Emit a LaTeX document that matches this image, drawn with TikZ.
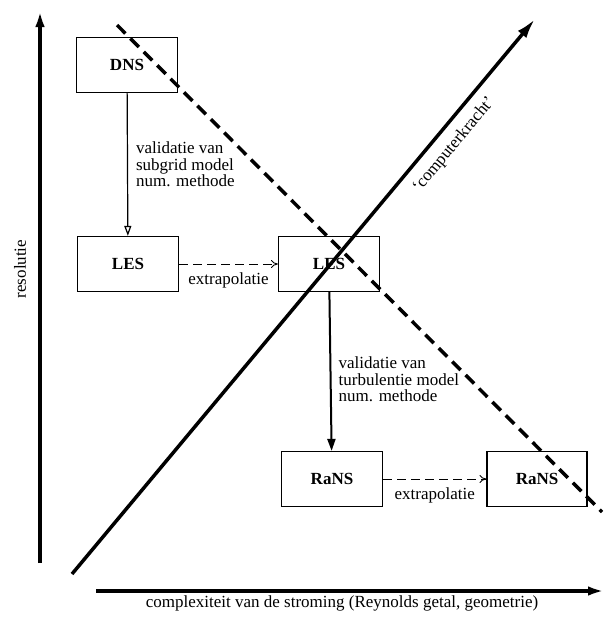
\documentclass[tikz,border=0pt]{standalone}
\usepackage{fontspec}
\setmainfont{Liberation Serif}
\usetikzlibrary{arrows.meta}

\begin{document}
\begin{tikzpicture}[x=1pt,y=-1pt,font=\rmfamily\fontsize{17}{16.5}\selectfont,
		blok/.style={draw,line width=1.2pt,minimum width=101pt,minimum height=55pt,font=\rmfamily\fontsize{17}{17}\selectfont\bfseries},
		as/.style={line width=4pt,-{Latex[length=20pt,width=9pt]}},
		extra/.style={dashed,dash pattern=on 9pt off 5pt,line width=0.9pt,-{To[length=7pt,width=8pt]}},
		uitleg/.style={align=left,inner sep=0pt,font=\rmfamily\fontsize{17}{16.5}\selectfont}]
	\useasboundingbox (0,0) rectangle (609,619);
	% de blokken
	\node[blok] (dns) at (127,65) {DNS};
	\node[blok] (lesa) at (128,264) {LES};
	\node[blok] (lesb) at (329,264) {LES};
	\node[blok] (ransa) at (332,479) {RaNS};
	\node[blok,minimum width=100pt] (ransb) at (537,479) {RaNS};
	% assen
	\coordinate (yvoet) at (40,563);
	\coordinate (ytop) at (40,7);
	\coordinate (xvoet) at (96,591);
	\coordinate (xtop) at (608,591);
	\coordinate (cvoet) at (72,574);
	\coordinate (ctop) at (535,19);
	\coordinate (dbegin) at (117,25);
	\coordinate (deind) at (602,512);
	\draw[as] (yvoet) -- (ytop);
	\draw[as] (xvoet) -- (xtop);
	\node[rotate=90] (ylabel) at (20,269) {resolutie};
	\node (xlabel) at (342,603) {complexiteit van de stroming (Reynolds getal, geometrie)};
	\draw[line width=3.5pt,-{Latex[length=20pt,width=11pt]}] (cvoet) -- (ctop);
	\node[rotate=50.2] (kracht) at (454,145) {‘computerkracht’};
	\draw[line width=3.5pt,dash pattern=on 12pt off 7pt] (dbegin) -- (deind);
	% pijlen tussen de blokken
	\path
		(dns) edge [line width=1.2pt,-{Triangle[open,length=10pt,width=7pt]}] node [uitleg, right=8pt] {validatie van\\subgrid model\\num. methode} (lesa)
		(lesb) edge [line width=2pt,-{Triangle[length=12pt,width=8pt]}] node [uitleg, pos=0.55, right=7pt] {validatie van\\turbulentie model\\num. methode} (ransa)
		(lesa) edge [extra] node [uitleg, below=8pt] {extrapolatie} (lesb)
		(ransa) edge [extra] node [uitleg, below=8pt] {extrapolatie} (ransb);
\end{tikzpicture}
\end{document}
